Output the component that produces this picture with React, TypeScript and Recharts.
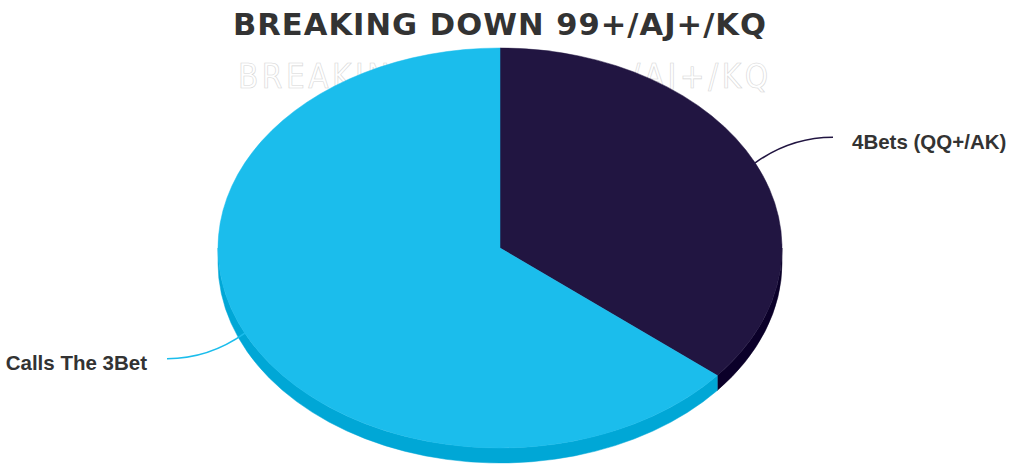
import { PieChart, Pie, Cell } from 'recharts';

const TITLE = 'BREAKING DOWN 99+/AJ+/KQ';
const categories = ['4Bets (QQ+/AK)', 'Calls The 3Bet'];
const shares = [36, 64];
const topColors = ['#211541', '#1bbdec'];
const sideColors = ['#0b0029', '#00a7d6'];

const data = categories.map((name, i) => ({ name, value: shares[i], side: sideColors[i] }));

// the pie is drawn as a tilted disc: ry = rx * TILT, with a visible side wall
const TILT = 200 / 282;
const DEPTH = 15;
const RAD = Math.PI / 180;

function onRim(cx: number, cy: number, r: number, deg: number, dy = 0) {
  return [cx + r * Math.cos(-deg * RAD), cy + r * TILT * Math.sin(-deg * RAD) + dy];
}

function Slice(props: any) {
  const { cx, cy, outerRadius: r, startAngle, endAngle, fill } = props;
  const side = props.side ?? props.payload?.side ?? fill;
  const hi = Math.max(startAngle, endAngle);
  const lo = Math.min(startAngle, endAngle);
  const ry = r * TILT;

  const [sx, sy] = onRim(cx, cy, r, hi);
  const [ex, ey] = onRim(cx, cy, r, lo);
  const large = hi - lo > 180 ? 1 : 0;
  const top = `M${cx},${cy} L${sx},${sy} A${r},${ry} 0 ${large} 1 ${ex},${ey} Z`;

  // front half of the disc lies between -180 and 0 degrees (mod 360)
  const walls: string[] = [];
  for (const k of [-720, -360, 0, 360]) {
    const a1 = Math.min(hi, k);
    const a2 = Math.max(lo, k - 180);
    if (a1 - a2 <= 0.01) continue;
    const [x1, y1] = onRim(cx, cy, r, a1);
    const [x2, y2] = onRim(cx, cy, r, a2);
    walls.push(
      `M${x1},${y1} A${r},${ry} 0 0 1 ${x2},${y2} L${x2},${y2 + DEPTH} A${r},${ry} 0 0 0 ${x1},${y1 + DEPTH} Z`
    );
  }

  return (
    <g>
      {walls.map((d, i) => (
        <path key={i} d={d} fill={side} stroke={side} strokeWidth={0.5} />
      ))}
      <path d={top} fill={fill} stroke={fill} strokeWidth={0.5} />
    </g>
  );
}

function renderLabel(props: any) {
  const { cx, cy, outerRadius: r, midAngle, index, name } = props;
  const [x0, y0] = onRim(cx, cy, r, midAngle);
  const right = Math.cos(-midAngle * RAD) >= 0;
  const x1 = right ? cx + r + 51 : cx - r - 51;
  const y1 = cy + (y0 - cy) * 1.3;
  const ctrl = right ? x1 - 42 : x1 + 42;
  return (
    <g key={`lbl-${index}`}>
      <path
        d={`M${x0},${y0} Q${ctrl},${y1} ${x1},${y1}`}
        fill="none"
        stroke={topColors[index]}
        strokeWidth={1.5}
      />
      <text
        x={right ? x1 + 19 : x1 - 20}
        y={y1 + 4}
        textAnchor={right ? 'start' : 'end'}
        dominantBaseline="central"
        fill="#333333"
        fontSize={20.5}
        fontWeight="bold"
        fontFamily="'Liberation Sans', Arial, sans-serif"
      >
        {name}
      </text>
    </g>
  );
}

export default function App() {
  return (
    <div style={{ position: 'absolute', left: 0, top: 0, width: 1010, height: 472, background: '#ffffff' }}>
      <svg width={1010} height={472} style={{ position: 'absolute', left: 0, top: 0 }}>
        <text
          x={500}
          y={35}
          textAnchor="middle"
          fontSize={30}
          fontWeight="bold"
          fontFamily="'DejaVu Sans', sans-serif"
          fill="#333333"
          textLength={534}
          lengthAdjust="spacingAndGlyphs"
          letterSpacing={1}
        >
          {TITLE}
        </text>
        <text
          x={503}
          y={88}
          textAnchor="middle"
          fontSize={33}
          fontFamily="'DejaVu Sans Condensed', 'DejaVu Sans', sans-serif"
          fontWeight="normal"
          fill="#ffffff"
          stroke="#d6d6d6"
          strokeWidth={0.6}
          textLength={530}
          lengthAdjust="spacing"
        >
          {TITLE}
        </text>
      </svg>
      <div style={{ position: 'absolute', left: 0, top: 0 }}>
        <PieChart width={1010} height={472} margin={{ top: 0, right: 0, bottom: 0, left: 0 }}>
          <Pie
            data={data}
            dataKey="value"
            nameKey="name"
            cx={500}
            cy={248}
            innerRadius={0}
            outerRadius={282}
            startAngle={90}
            endAngle={-270}
            stroke="none"
            shape={Slice}
            label={renderLabel}
            labelLine={false}
            isAnimationActive={false}
          >
            {data.map((d, i) => (
              <Cell key={d.name} fill={topColors[i]} />
            ))}
          </Pie>
        </PieChart>
      </div>
    </div>
  );
}
